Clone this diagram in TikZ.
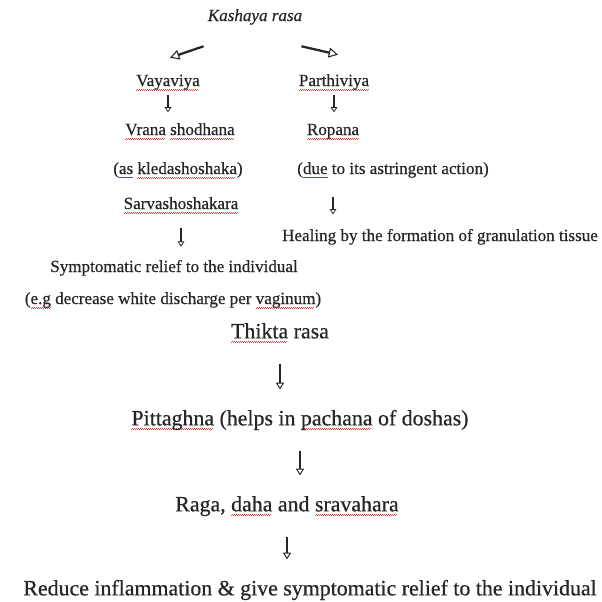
\documentclass[tikz,border=0pt]{standalone}
\usepackage{fontspec}
\setmainfont{Liberation Serif}[FakeBold=0.6]
\usepackage{xcolor}
\usepackage{tikz}
\usetikzlibrary{arrows.meta}

\definecolor{spellred}{RGB}{226,60,60}
\definecolor{gramblue}{RGB}{70,80,200}
\newcommand\redwave[1]{\leavevmode\setbox0\hbox{#1}\rlap{\color{spellred}\hbox to\wd0{\leaders\hbox{\rule[-3.2pt]{0.75pt}{0.45pt}\rule[-2.6pt]{0.75pt}{0.45pt}}\hfil}}\box0\relax}
\newcommand\blueline[1]{\leavevmode\setbox0\hbox{#1}\rlap{\color{gramblue}\rule[-2.8pt]{\wd0}{0.5pt}}\box0\relax}

\tikzset{
  smalltxt/.style={inner sep=0.75pt,text height=9pt,text depth=3pt,text=black!85,font=\fontsize{12.8}{15}\selectfont},
  bigtxt/.style={inner sep=0.75pt,text height=12pt,text depth=4pt,text=black!85,font=\fontsize{16.4}{19}\selectfont},
  diagarrow/.style={line width=1.7pt,black!85,-{Triangle[open,line width=0.8pt,length=7pt,width=7.5pt]}},
  downarrow/.style={line width=0.9pt,black!85,-{Triangle[open,line width=0.6pt,length=4pt,width=5pt]}},
  bigdownarrow/.style={line width=1.1pt,black!85,-{Triangle[open,line width=0.7pt,length=5pt,width=6pt]},shorten <=14pt,shorten >=14pt}
}

\begin{document}
\begin{tikzpicture}[x=0.75pt,y=0.75pt,yscale=-1,xscale=1]
\useasboundingbox (0,0) rectangle (602,601);

% Text Node
\node[smalltxt] (kash) at (255,17) {\itshape Kashaya rasa};
% Text Node
\node[smalltxt] (vay) at (168,82) {\redwave{Vayaviya}};
% Text Node
\node[smalltxt] (par) at (334,82) {\redwave{Parthiviya}};
% Text Node
\node[smalltxt] (vrana) at (180,131) {\redwave{Vrana} \redwave{shodhana}};
% Text Node
\node[smalltxt] (ropana) at (333,131) {\redwave{Ropana}};
% Text Node
\node[smalltxt] (kled) at (178,170) {(\blueline{as} \redwave{kledashoshaka})};
% Text Node
\node[smalltxt] (due) at (393,170) {(\blueline{due} to its astringent action)};
% Text Node
\node[smalltxt] (sarv) at (181,205) {\redwave{Sarvashoshakara}};
% Text Node
\node[smalltxt] (heal) at (440,237) {Healing by the formation of granulation tissue};
% Text Node
\node[smalltxt] (symp) at (174,268) {Symptomatic relief to the individual};
% Text Node
\node[smalltxt] (eg) at (173,300) {(\redwave{e.g} decrease white discharge per \redwave{vaginum})};
% Text Node
\node[bigtxt] (thikta) at (280,333) {\redwave{Thikta} rasa};
% Text Node
\node[bigtxt] (pitt) at (300,420) {\redwave{Pittaghna} (helps in \redwave{pachana} of doshas)};
% Text Node
\node[bigtxt] (raga) at (287,506) {Raga, \redwave{daha} and \redwave{sravahara}};
% Text Node
\node[bigtxt] (reduce) at (310,590) {Reduce inflammation \& give symptomatic relief to the individual};

%Straight Lines
\draw[diagarrow] ([shift={(-3,20)}]kash.south west) -- ([shift={(2,-15)}]vay.north);
%Straight Lines
\draw[diagarrow] ([shift={(-2,20)}]kash.south east) -- ([shift={(4,-18)}]par.north);
%Straight Lines
\draw[downarrow,shorten <=3pt,shorten >=7pt] (vay.south) -- (vay.south |- vrana.north);
%Straight Lines
\draw[downarrow,shorten <=3pt,shorten >=7pt] (par.south) -- (par.south |- ropana.north);
%Straight Lines
\draw[downarrow,shorten <=10pt,shorten >=9pt] (sarv.south) -- (sarv.south |- symp.north);
%Straight Lines
\draw[downarrow,shorten <=13pt,shorten >=10pt] (ropana |- due.south) -- (ropana |- heal.north);
%Straight Lines
\draw[bigdownarrow] (thikta.south) -- (thikta.south |- pitt.north);
%Straight Lines
\draw[bigdownarrow] (pitt.south) -- (pitt.south |- raga.north);
%Straight Lines
\draw[bigdownarrow] (raga.south) -- (raga.south |- reduce.north);
\end{tikzpicture}
\end{document}
